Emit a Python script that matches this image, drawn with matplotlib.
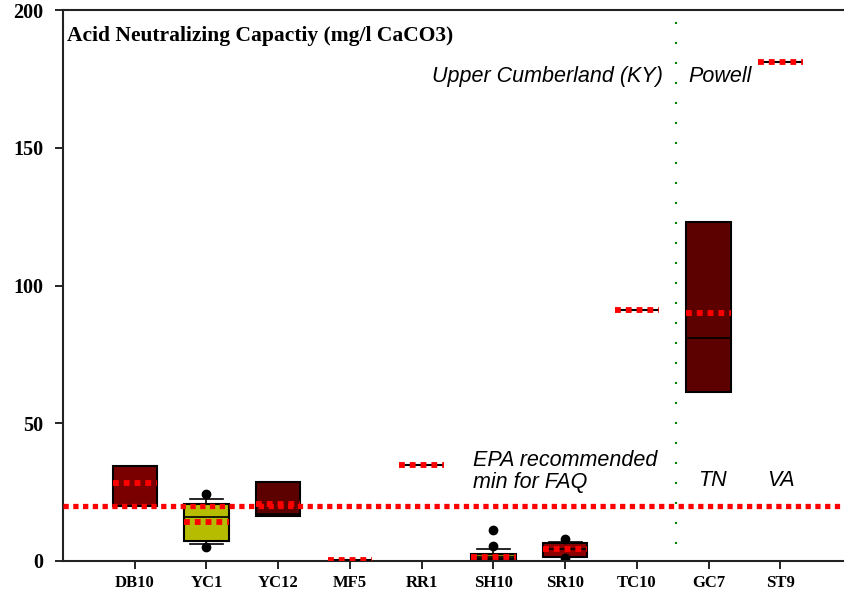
import matplotlib
matplotlib.use("Agg")
import matplotlib.pyplot as plt

# sites and box statistics (mg/l CaCO3)
sites = ["DB10", "YC1", "YC12", "MF5", "RR1", "SH10", "SR10", "TC10", "GC7", "ST9"]
q1 = [19.8, 7.3, 16.5, 0.4, 35.0, 0.7, 1.6, 91.0, 61.3, 181.0]
med = [20.0, 15.8, 17.0, 0.4, 35.0, 1.5, 4.3, 91.0, 80.8, 181.0]
q3 = [34.6, 20.8, 28.7, 0.4, 35.0, 2.4, 6.7, 91.0, 123.2, 181.0]
whislo = [19.8, 6.1, 16.5, 0.4, 35.0, 0.6, 1.6, 91.0, 61.3, 181.0]
whishi = [34.6, 22.6, 28.7, 0.4, 35.0, 4.5, 7.0, 91.0, 123.2, 181.0]
means = [28.3, 14.3, 20.6, 0.4, 35.0, 1.5, 4.3, 91.0, 90.0, 181.0]
fliers = [[], [24.3, 5.2], [], [], [], [5.3, 11.3], [8.0, 1.2], [], [], []]
box_colors = ["#7a0000", "#b6bd00", "#5c0000", "#5c0000", "#5c0000",
              "#8a8a00", "#8c0000", "#5c0000", "#5c0000", "#5c0000"]
epa_min = 20

stats = []
for i in range(len(sites)):
    stats.append({"label": sites[i], "q1": q1[i], "med": med[i], "q3": q3[i],
                  "whislo": whislo[i], "whishi": whishi[i], "mean": means[i],
                  "fliers": fliers[i]})

fig = plt.figure(figsize=(8.45, 6), dpi=100)
ax = fig.add_axes([63/845, 39/600, 1 - 63/845, (561 - 10)/600])

red_dots = (0, (1, 0.85))
bp = ax.bxp(stats, positions=range(len(sites)), widths=0.62, capwidths=0.46,
            showmeans=True, meanline=True, patch_artist=True,
            boxprops=dict(edgecolor="black", linewidth=1.5),
            medianprops=dict(color="black", linewidth=1.2, zorder=3),
            meanprops=dict(color="#ff0000", linewidth=4.2, linestyle=red_dots,
                           zorder=5),
            whiskerprops=dict(color="black", linewidth=1.2),
            capprops=dict(color="black", linewidth=1.2),
            flierprops=dict(marker="o", markerfacecolor="black",
                            markeredgecolor="black", markersize=6))
for patch, c in zip(bp["boxes"], box_colors):
    patch.set_facecolor(c)

# EPA recommended minimum
ax.axhline(epa_min, color="#ff0000", linewidth=3.8, linestyle=red_dots, zorder=4)
# state border between TC10 and GC7
ax.plot([7.55, 7.55], [6, 200], color="green", linewidth=1.5,
        linestyle=(0, (1, 8.6)), zorder=1)

ax.set_xlim(-1, 9.9)
ax.set_ylim(0, 200)
ax.set_yticks([0, 50, 100, 150, 200])
ax.set_xticks(range(len(sites)))
ax.set_xticklabels(sites)

for lab in ax.get_yticklabels():
    lab.set_fontfamily("Liberation Serif")
    lab.set_fontweight("bold")
    lab.set_fontsize(14.5)
for lab in ax.get_xticklabels():
    lab.set_fontfamily("Liberation Serif")
    lab.set_fontweight("bold")
    lab.set_fontsize(12)
ax.tick_params(axis="y", direction="out", length=6, width=1.2, pad=8)
ax.tick_params(axis="x", direction="out", length=6, width=1.2, pad=4)

ax.spines["right"].set_visible(False)
for s in ["left", "bottom", "top"]:
    ax.spines[s].set_linewidth(1.5)
    ax.spines[s].set_color("#222222")

ax.text(-0.95, 190.5, "Acid Neutralizing Capactiy (mg/l CaCO3)",
        fontfamily="Liberation Serif", fontweight="bold", fontsize=15.5,
        ha="left", va="center")

ital = dict(fontfamily="Liberation Sans", fontstyle="italic", fontsize=15.5)
ax.text(7.36, 176, "Upper Cumberland (KY)", ha="right", va="center", **ital)
ax.text(7.71, 176, "Powell", ha="left", va="center", **ital)
ax.text(4.71, 32.6, "EPA recommended\nmin for FAQ", ha="left", va="center",
        linespacing=1.05, **ital)
ax.text(8.05, 29.1, "TN", ha="center", va="center", **ital)
ax.text(9.01, 29.1, "VA", ha="center", va="center", **ital)

fig.savefig("out.png", dpi=100)
